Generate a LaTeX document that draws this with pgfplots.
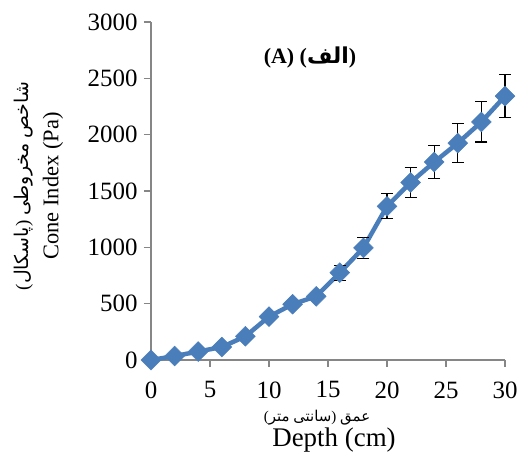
\documentclass[border=0pt]{standalone}
\usepackage{pgfplots}
\pgfplotsset{compat=1.18}
\usepackage{fontspec}
\setmainfont{Liberation Serif}
\newfontfamily\arabicfont[Script=Arabic]{DejaVu Sans}
\TeXXeTstate=1
\definecolor{exblue}{HTML}{4A7EBB}
\definecolor{axgray}{HTML}{868686}
\begin{document}
\begin{tikzpicture}[x=1bp,y=1bp]
\useasboundingbox (-151,-101) rectangle (370,360);
\begin{axis}[
  at={(0,0)}, anchor=south west,
  scale only axis, width=354bp, height=338bp,
  xmin=0, xmax=30, ymin=0, ymax=3000,
  axis lines=left,
  axis line style={-, draw=axgray, line width=1.3bp},
  tick style={draw=axgray, line width=1.3bp},
  tick align=outside, major tick length=7bp,
  xtick={0,5,...,30}, ytick={0,500,...,3000},
  minor tick num=0,
  clip=false,
  /pgf/number format/assume math mode=true,
  /pgf/number format/1000 sep={},
  xticklabel={\pgfmathprintnumber{\tick}},
  yticklabel={\pgfmathprintnumber{\tick}},
  ticklabel style={font=\rmfamily\fontsize{25}{28}\selectfont},
  yticklabel style={xshift=-3bp},
  xticklabel style={yshift=-11bp},
]
\addplot[exblue, line width=4.5bp, mark=square*, mark size=7bp,
  mark options={rotate=45, fill=exblue, draw=exblue, line width=0.5bp},
  error bars/.cd, y dir=both, y explicit,
  error bar style={black, line width=1.1bp},
  error mark options={black, rotate=90, mark size=6bp, line width=1.1bp}]
  table[x=x, y=y, y error=e] {
x y e
0 0 0
2 35 0
4 75 0
6 115 0
8 210 0
10 385 0
12 495 0
14 565 0
16 775 67
18 995 93
20 1364 111
22 1576 131
24 1757 148
26 1925 173
28 2113 178
30 2342 190
};
\end{axis}
\node[font=\fontsize{22}{26}\selectfont\bfseries] at (159,302) {(A) ({\arabicfont\beginR الف\endR})};
\node[rotate=90, font=\fontsize{22.5}{26}\selectfont] at (-98,174) {Cone Index (Pa)};
\node[rotate=90, font=\fontsize{19}{22}\selectfont] at (-127,174) {({\arabicfont\beginR پاسکال\endR}) {\arabicfont\beginR مخروطی\endR} {\arabicfont\beginR شاخص\endR}};
\node[font=\fontsize{15}{18}\selectfont] at (166,-58) {({\arabicfont\beginR متر\endR} {\arabicfont\beginR سانتی\endR}) {\arabicfont\beginR عمق\endR}};
\node[font=\fontsize{27}{30}\selectfont] at (183,-80) {Depth (cm)};
\end{tikzpicture}
\end{document}
